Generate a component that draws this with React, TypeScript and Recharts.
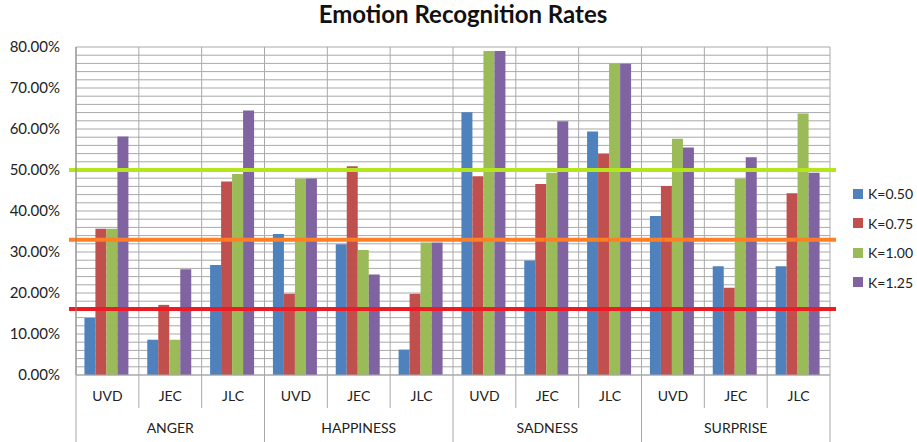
import {
  Bar,
  BarChart,
  CartesianGrid,
  Legend,
  ReferenceLine,
  XAxis,
  YAxis,
} from "recharts";

const groups = ["ANGER", "HAPPINESS", "SADNESS", "SURPRISE"];
const methods = ["UVD", "JEC", "JLC"];

const k050 = [13.9, 8.6, 26.8, 34.4, 31.9, 6.2, 64.1, 27.9, 59.4, 38.8, 26.5, 26.5];
const k075 = [35.7, 17.1, 47.2, 19.8, 50.9, 19.8, 48.5, 46.6, 53.9, 46.1, 21.3, 44.3];
const k100 = [35.7, 8.6, 49.0, 47.9, 30.5, 32.3, 79.0, 49.3, 75.9, 57.6, 47.9, 63.8];
const k125 = [58.2, 25.8, 64.5, 47.9, 24.5, 32.3, 79.0, 61.9, 75.9, 55.5, 53.1, 49.3];

const labelTicks = [0, 10, 20, 30, 40, 50, 60, 70, 80];
const gridTicks = Array.from({ length: 41 }, (_, i) => i * 2);

const chanceLines = [
  { value: 50, color: "#b5e61d" },
  { value: 33, color: "#ff7f27" },
  { value: 16.1, color: "#ed1c24" },
];

const series = [
  { key: "k050", name: "K=0.50", color: "#4f81bd" },
  { key: "k075", name: "K=0.75", color: "#c0504d" },
  { key: "k100", name: "K=1.00", color: "#9bbb59" },
  { key: "k125", name: "K=1.25", color: "#8064a2" },
];

const data = k050.map((v, i) => ({
  key: `${groups[Math.floor(i / 3)]}-${methods[i % 3]}`,
  group: groups[Math.floor(i / 3)],
  method: methods[i % 3],
  k050: v,
  k075: k075[i],
  k100: k100[i],
  k125: k125[i],
}));

const FONT = "Lato, 'Open Sans', sans-serif";
const GRID = "#a9a9a9";

function YTick(props: any) {
  const { x, y, payload } = props;
  if (!labelTicks.includes(payload.value)) return null;
  return (
    <text x={x} y={y} dy={5} textAnchor="end" fontFamily={FONT} fontSize={15} fill="#222">
      {payload.value.toFixed(2)}%
    </text>
  );
}

function XTick(props: any) {
  const { x, y, index, width, visibleTicksCount } = props;
  const n = visibleTicksCount || data.length;
  const band = (width || 754) / n;
  const row = data[index];
  const groupStart = index % 3 === 0;
  const last = index === n - 1;
  return (
    <g>
      <line x1={x - band / 2} y1={y} x2={x - band / 2} y2={y + (groupStart ? 67 : 33)} stroke={GRID} />
      {last && <line x1={x + band / 2} y1={y} x2={x + band / 2} y2={y + 67} stroke={GRID} />}
      <text x={x} y={y + 26} textAnchor="middle" fontFamily={FONT} fontSize={14} fill="#222">
        {row?.method}
      </text>
      {index % 3 === 1 && (
        <text x={x} y={y + 58} textAnchor="middle" fontFamily={FONT} fontSize={14} fill="#222">
          {row?.group}
        </text>
      )}
    </g>
  );
}

function LegendBox() {
  return (
    <div style={{ fontFamily: FONT, fontSize: 14, color: "#222" }}>
      {series.map((s) => (
        <div key={s.key} style={{ display: "flex", alignItems: "center", height: 29.5 }}>
          <span style={{ width: 10, height: 10, background: s.color, marginRight: 5 }} />
          {s.name}
        </div>
      ))}
    </div>
  );
}

export default function App() {
  return (
    <div style={{ position: "relative", width: 917, height: 442, background: "#fff" }}>
      <style>{"body{margin:0}"}</style>
      <div
        style={{
          position: "absolute",
          left: 0,
          width: 926,
          top: -1,
          textAlign: "center",
          fontFamily: FONT,
          fontWeight: 700,
          fontSize: 24,
          color: "#111",
        }}
      >
        Emotion Recognition Rates
      </div>
      <BarChart
        width={917}
        height={442}
        data={data}
        margin={{ top: 47, right: 87, left: 0, bottom: 0 }}
        barCategoryGap="13.4%"
        barGap={0}
      >
        <CartesianGrid
          stroke={GRID}
          verticalCoordinatesGenerator={({ offset }: any) =>
            data.map((_, i) => offset.left + (i * offset.width) / data.length).concat(offset.left + offset.width)
          }
        />
        <XAxis
          dataKey="key"
          interval={0}
          height={67}
          tickLine={false}
          tickSize={0}
          tickMargin={0}
          axisLine={{ stroke: GRID }}
          tick={<XTick />}
        />
        <YAxis
          width={76}
          domain={[0, 80]}
          ticks={gridTicks}
          interval={0}
          tickLine={false}
          tickMargin={10}
          axisLine={{ stroke: "#888" }}
          tick={<YTick />}
        />
        {series.map((s) => (
          <Bar key={s.key} dataKey={s.key} name={s.name} fill={s.color} isAnimationActive={false} />
        ))}
        {chanceLines.map((l) => (
          <ReferenceLine
            key={l.value}
            y={l.value}
            stroke={l.color}
            strokeWidth={4}
            shape={(p: any) => (
              <line x1={p.x1 - 7} y1={p.y1} x2={p.x2 + 6} y2={p.y2} stroke={l.color} strokeWidth={4} />
            )}
          />
        ))}
        <Legend
          layout="vertical"
          align="center"
          verticalAlign="middle"
          content={<LegendBox />}
          wrapperStyle={{ left: 853, top: 179, width: 64 }}
        />
      </BarChart>
    </div>
  );
}
